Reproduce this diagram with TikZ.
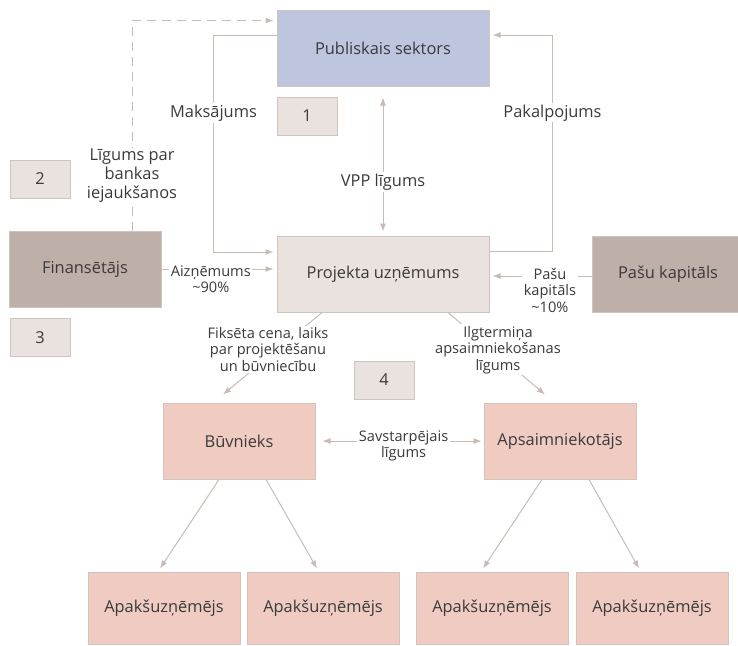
\documentclass[tikz,border=0pt]{standalone}
\usepackage{fontspec}
\setmainfont{Open Sans}
\usetikzlibrary{arrows.meta}
\definecolor{publicfill}{RGB}{190,197,223}
\definecolor{lightfill}{RGB}{234,226,223}
\definecolor{darkfill}{RGB}{190,175,168}
\definecolor{pinkfill}{RGB}{240,203,194}
\definecolor{edgeline}{RGB}{208,196,191}
\definecolor{arrowline}{RGB}{200,187,181}
\definecolor{textgrey}{RGB}{58,58,58}
\tikzstyle{every node}=[text=textgrey, font=\fontsize{16.4}{19}\selectfont]
\tikzstyle{box}=[draw=edgeline, line width=1pt, minimum width=152pt,
    minimum height=76pt, inner sep=0pt]
\tikzstyle{numbox}=[box, fill=lightfill, minimum width=60pt, minimum height=38pt]
\tikzstyle{arr}=[draw=arrowline, line width=1pt, -{Latex[length=8pt,width=6pt]}]
\tikzstyle{lbl}=[fill=white, inner sep=1.5pt, align=center,
    font=\fontsize{14.6}{16.5}\selectfont]
\tikzstyle{biglbl}=[lbl, font=\fontsize{16.4}{19}\selectfont]

\begin{document}
\begin{tikzpicture}[x=1pt, y=-1pt]
            \useasboundingbox (0, 0) rectangle (738, 645);

            \node[box, fill=publicfill, minimum width=212pt] (public) at (383, 48)
                {Publiskais sektors};
            \node[box, fill=lightfill, minimum width=212pt] (company) at (383, 274)
                {Projekta uzņēmums};
            \node[box, fill=darkfill] (lender) at (85, 269) {Finansētājs};
            \node[box, fill=darkfill] (equity) at (668, 274) {Pašu kapitāls};
            \node[box, fill=pinkfill] (builder) at (239, 441) {Būvnieks};
            \node[box, fill=pinkfill] (operator) at (560, 441) {Apsaimniekotājs};

            \node[box, fill=pinkfill, minimum height=72pt] (sub1) at (164, 608) {Apakšuzņēmējs};
            \node[box, fill=pinkfill, minimum height=72pt] (sub2) at (323, 608) {Apakšuzņēmējs};
            \node[box, fill=pinkfill, minimum height=72pt] (sub3) at (492, 608) {Apakšuzņēmējs};
            \node[box, fill=pinkfill, minimum height=72pt] (sub4) at (652, 608) {Apakšuzņēmējs};

            \node[numbox] (one) at (307, 116) {1};
            \node[numbox] (two) at (40, 179) {2};
            \node[numbox] (three) at (40, 337.5) {3};
            \node[numbox] (four) at (384, 380) {4};

            \draw[arr, dash pattern=on 9pt off 6pt] ([xshift=47pt]lender.north)
                |- ([yshift=-11pt, xshift=-3pt]public.north west)
                node[biglbl, pos=0.13] (bankdeal) {Līgums par\\bankas\\iejaukšanos};
            \draw[arr] ([yshift=13pt]public.west) -- ++(-63, 0)
                |- ([yshift=22pt, xshift=-3pt]company.west)
                node[biglbl, pos=0.18] (payment) {Maksājums};
            \draw[arr] ([yshift=23pt]company.east) -- ++(63, 0)
                |- ([yshift=13pt, xshift=3pt]public.east)
                node[biglbl, pos=0.32] (service) {Pakalpojums};
            \draw[arr, {Latex[length=8pt,width=6pt]}-{Latex[length=8pt,width=6pt]}]
                ([yshift=-11pt]public.south) -- ([yshift=4pt]company.north)
                node[biglbl, pos=0.63] (ppp) {VPP līgums};

            \draw[arr] (lender.east) -- ([xshift=-3pt]lender.east -| company.west)
                node[lbl, pos=0.44, yshift=-10pt] (loan) {Aizņēmums\\\textasciitilde90\%};
            \draw[arr] ([yshift=-2pt]equity.west) -- ([yshift=-2pt, xshift=3pt]company.east)
                node[lbl, pos=0.42, yshift=-14pt] (capital) {Pašu\\kapitāls\\\textasciitilde10\%};

            \draw[arr] ([xshift=-61pt]company.south) -- ([shift={(-16pt,8pt)}]builder.north)
                node[lbl, pos=0.545, yshift=8pt] (buildterms)
                {Fiksēta cena, laiks\\par projektēšanu\\un būvniecību};
            \draw[arr] ([xshift=65pt]company.south) -- ([shift={(-15pt,8pt)}]operator.north)
                node[lbl, pos=0.515, yshift=5pt] (opterms)
                {Ilgtermiņa\\apsaimniekošanas\\līgums};
            \draw[arr, {Latex[length=8pt,width=6pt]}-{Latex[length=8pt,width=6pt]}]
                ([xshift=7pt]builder.east) -- ([xshift=-2pt]operator.west)
                node[lbl, pos=0.51, yshift=-5pt] (mutual) {Savstarpējais\\līgums};

            \draw[arr] ([xshift=-20pt]builder.south) -- ([shift={(-4pt,3pt)}]sub1.north);
            \draw[arr] ([xshift=27pt]builder.south) -- ([shift={(-6pt,3pt)}]sub2.north);
            \draw[arr] ([xshift=-18pt]operator.south) -- ([shift={(-9pt,3pt)}]sub3.north);
            \draw[arr] ([xshift=29pt]operator.south) -- ([shift={(-13pt,3pt)}]sub4.north);
\end{tikzpicture}
\end{document}
